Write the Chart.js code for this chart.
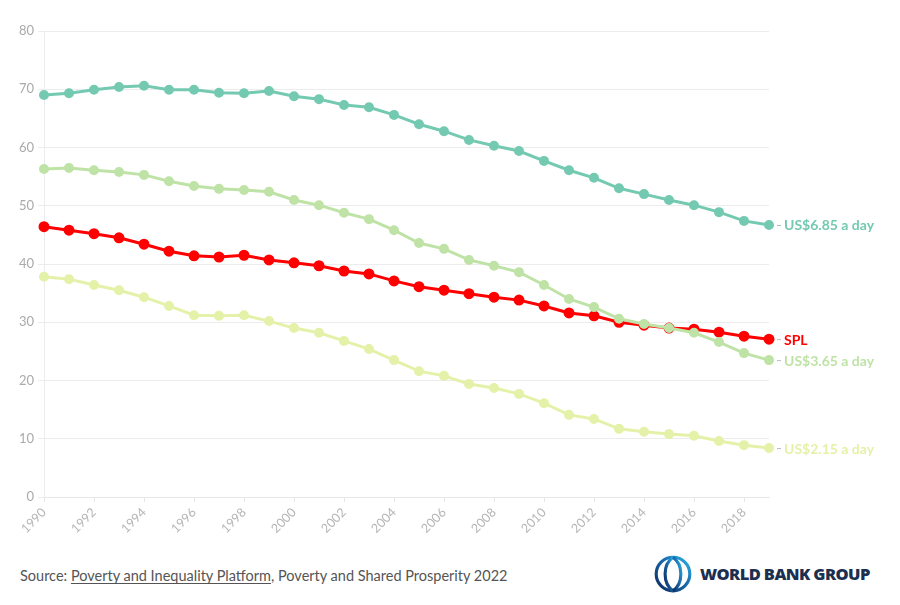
<!DOCTYPE html>
<html><head><meta charset="utf-8">
<script src="https://cdn.jsdelivr.net/npm/chart.js@4/dist/chart.umd.min.js"></script>
<style>
html,body{margin:0;padding:0;background:#fff;width:900px;height:605px;overflow:hidden;font-family:"Source Sans Pro",Lato,"Open Sans",sans-serif;}
#wrap{position:absolute;left:0;top:0;width:900px;height:540px;}
#src{position:absolute;left:20px;top:567px;font-size:14.5px;color:#555;font-family:Lato,"Open Sans",sans-serif;}
#src u{text-underline-offset:2px;}
#logo{position:absolute;left:652px;top:552px;display:flex;align-items:center;}
#logo span{font-family:"Open Sans",Roboto,sans-serif;font-weight:800;font-size:16.5px;color:#1d2f4f;letter-spacing:-0.6px;margin-left:6px;}
</style></head>
<body>
<div id="wrap"><canvas id="c"></canvas></div>
<div id="src">Source: <u>Poverty and Inequality Platform</u>, Poverty and Shared Prosperity 2022</div>
<div id="logo">
<svg width="42" height="42" viewBox="0 0 40 40">
<defs><linearGradient id="g" x1="0" y1="1" x2="1" y2="0"><stop offset="0" stop-color="#0a2a5e"/><stop offset="0.6" stop-color="#1b6fb0"/><stop offset="1" stop-color="#29b5e8"/></linearGradient></defs>
<g fill="none" stroke="url(#g)" stroke-width="3">
<circle cx="20" cy="21" r="16"/>
<path d="M20 5 C10 12 10 30 20 37"/>
<path d="M20 5 C30 12 30 30 20 37"/>
<path d="M5 15 H35"/><path d="M5 27 H35"/>
</g></svg>
<span>WORLD BANK GROUP</span></div>
<script>
const years = [];
for (let y = 1990; y <= 2019; y++) years.push(String(y));
const yTicks = [0,10,20,30,40,50,60,70,80];
const seriesNames = ["US$6.85 a day","US$3.65 a day","SPL","US$2.15 a day"];
const us685 = [69.0,69.3,69.9,70.4,70.6,69.9,69.9,69.4,69.3,69.7,68.8,68.3,67.3,66.9,65.6,64.0,62.8,61.3,60.3,59.4,57.7,56.1,54.8,53.0,52.0,51.0,50.1,48.9,47.4,46.7];
const us365 = [56.3,56.5,56.1,55.8,55.3,54.2,53.4,52.9,52.7,52.4,51.0,50.1,48.8,47.7,45.8,43.6,42.6,40.7,39.7,38.6,36.4,34.0,32.6,30.6,29.7,29.0,28.2,26.6,24.7,23.5];
const spl   = [46.4,45.8,45.2,44.5,43.4,42.2,41.4,41.2,41.5,40.7,40.2,39.7,38.8,38.3,37.1,36.1,35.5,34.9,34.3,33.8,32.8,31.6,31.1,30.0,29.5,29.0,28.8,28.3,27.6,27.1];
const us215 = [37.8,37.4,36.4,35.5,34.3,32.8,31.2,31.1,31.2,30.2,29.0,28.2,26.8,25.4,23.5,21.6,20.8,19.4,18.7,17.7,16.1,14.1,13.4,11.7,11.2,10.8,10.5,9.6,8.9,8.4];
const colors = ["#74c9b1","#bfe3a6","#ff0000","#e4f1a8"];
const values = [us685, us365, spl, us215];

const ds = values.map((v,i)=>({
  label: seriesNames[i], data: v,
  borderColor: colors[i], backgroundColor: colors[i],
  borderWidth: 3, pointRadius: i===2?4:3.5, pointHoverRadius:3.5,
  tension: 0
}));

const endLabels = {
  id:'endLabels',
  afterDatasetsDraw(chart){
    const ctx = chart.ctx;
    ctx.save();
    chart.data.datasets.forEach((d,i)=>{
      const meta = chart.getDatasetMeta(i);
      const p = meta.data[meta.data.length-1];
      ctx.strokeStyle='#bbb'; ctx.lineWidth=1;
      ctx.beginPath(); ctx.moveTo(p.x+8,p.y+0.5); ctx.lineTo(p.x+12,p.y+0.5); ctx.stroke();
      ctx.fillStyle = d.borderColor;
      ctx.font = 'bold 14px Lato, "Open Sans", sans-serif';
      ctx.textBaseline='middle'; ctx.textAlign='left';
      ctx.fillText(d.label, p.x+15, p.y+1);
    });
    ctx.restore();
  }
};

new Chart(document.getElementById('c'), {
  type:'line',
  data:{labels:years, datasets:ds},
  plugins:[endLabels],
  options:{
    responsive:true, maintainAspectRatio:false, animation:false,
    layout:{padding:{top:31,right:131,left:0,bottom:0}},
    plugins:{legend:{display:false},tooltip:{enabled:false}},
    scales:{
      x:{
        afterFit(s){ s.height = 43; },
        grid:{drawOnChartArea:false, tickLength:5, color:(c)=> (c.index%2===0 ? '#e6e6e6':'rgba(0,0,0,0)')},
        border:{color:'#e6e6e6'},
        ticks:{autoSkip:false, maxRotation:45, minRotation:45, color:'#b5b5b5', font:{size:12.5, family:'Lato, "Open Sans", sans-serif'},
          callback(v,i){ return i%2===0 ? years[i] : ''; }}
      },
      y:{
        min:0,max:80,
        afterFit(s){ s.width = 44; },
        afterBuildTicks(s){ s.ticks = yTicks.map(v=>({value:v})); },
        grid:{color:'#ececec', tickLength:6},
        border:{color:'#ececec'},
        ticks:{color:'#aaaaaa', padding:4, font:{size:13, family:'Lato, "Open Sans", sans-serif'}}
      }
    }
  }
});
</script>
</body></html>
